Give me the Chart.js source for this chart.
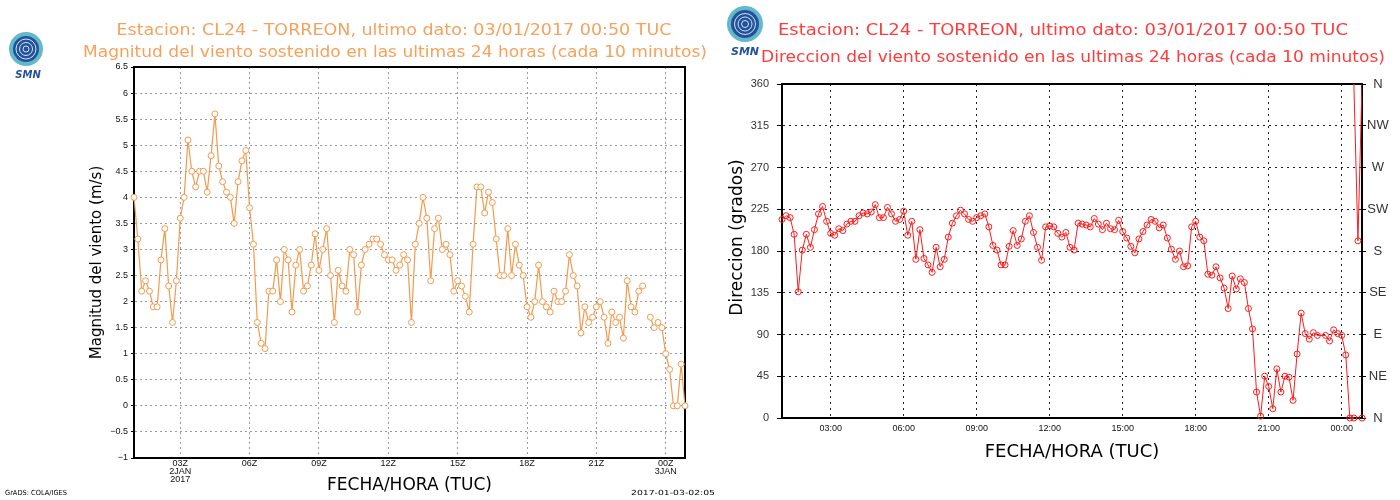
<!DOCTYPE html>
<html>
<head>
<meta charset="utf-8">
<title>CL24 TORREON - viento</title>
<script src="https://cdn.jsdelivr.net/npm/chart.js@4.4.1/dist/chart.umd.min.js"></script>
<style>
  html, body { margin: 0; padding: 0; background: #fff; }
  #wrap { position: relative; width: 1400px; height: 500px; overflow: hidden; }
  canvas { position: absolute; top: 0; }
  #speedChart { left: 0; }
  #dirChart { left: 720px; }
  .logo { position: absolute; }
</style>
</head>
<body>
<div id="wrap">
  <canvas id="speedChart" width="720" height="500"></canvas>
  <canvas id="dirChart" width="680" height="500"></canvas>
  <svg class="logo" style="left:5px;top:30px" width="46" height="50" viewBox="0 0 46 50">
    <circle cx="21" cy="19" r="17" fill="#63b9c9"/>
    <circle cx="21" cy="19" r="13" fill="#24519c"/>
    <circle cx="21" cy="19" r="10" fill="none" stroke="#cfe6ef" stroke-width="1"/>
    <circle cx="21" cy="19" r="6.5" fill="none" stroke="#cfe6ef" stroke-width="1"/>
    <circle cx="21" cy="19" r="3" fill="none" stroke="#cfe6ef" stroke-width="1"/>
    <text x="23" y="48" text-anchor="middle" font-family="DejaVu Sans" font-weight="bold" font-style="italic" font-size="10" fill="#24519c">SMN</text>
  </svg>
  <svg class="logo" style="left:720px;top:3px" width="52" height="54" viewBox="0 0 52 54">
    <circle cx="25" cy="21" r="18" fill="#63b9c9"/>
    <circle cx="25" cy="21" r="14" fill="#24519c"/>
    <circle cx="25" cy="21" r="10.5" fill="none" stroke="#cfe6ef" stroke-width="1"/>
    <circle cx="25" cy="21" r="7" fill="none" stroke="#cfe6ef" stroke-width="1"/>
    <circle cx="25" cy="21" r="3.5" fill="none" stroke="#cfe6ef" stroke-width="1"/>
    <text x="25" y="52" text-anchor="middle" font-family="DejaVu Sans" font-weight="bold" font-style="italic" font-size="11" fill="#24519c">SMN</text>
  </svg>
</div>
<script>
// wind speed (m/s), every 10 min from 01:00 2JAN to 00:50 3JAN
const speedValues = [
  4.0, 3.2, 2.2, 2.4, 2.2, 1.9, 1.9, 2.8, 3.4, 2.3,
  1.6, 2.4, 3.6, 4.0, 5.1, 4.5, 4.2, 4.5, 4.5, 4.1,
  4.8, 5.6, 4.6, 4.3, 4.1, 4.0, 3.5, 4.3, 4.7, 4.9,
  3.8, 3.1, 1.6, 1.2, 1.1, 2.2, 2.2, 2.8, 2.0, 3.0,
  2.8, 1.8, 2.7, 3.0, 2.2, 2.3, 2.7, 3.3, 2.6, 3.0,
  3.4, 2.5, 1.6, 2.6, 2.3, 2.2, 3.0, 2.9, 1.8, 2.7,
  3.0, 3.1, 3.2, 3.2, 3.1, 2.9, 2.8, 2.8, 2.6, 2.7,
  2.9, 2.8, 1.6, 3.1, 3.5, 4.0, 3.6, 2.4, 3.4, 3.6,
  3.0, 3.1, 2.9, 2.2, 2.4, 2.3, 2.1, 1.8, 3.1, 4.2,
  4.2, 3.7, 4.1, 3.9, 3.2, 2.5, 2.5, 3.4, 2.5, 3.1,
  2.7, 2.5, 1.9, 1.7, 2.0, 2.7, 2.0, 1.9, 1.8, 2.2,
  2.0, 2.0, 2.2, 2.9, 2.5, 2.3, 1.4, 1.9, 1.6, 1.7,
  1.9, 2.0, 1.7, 1.2, 1.8, 1.6, 1.7, 1.3, 2.4, 1.9,
  1.8, 2.2, 2.3, null, 1.7, 1.5, 1.6, 1.5, 1.0, 0.7,
  0, 0, 0.8, 0
];

// wind direction (degrees), same times
const dirValues = [
  214, 218, 216, 198, 136, 181, 198, 184, 203, 220,
  228, 212, 199, 197, 204, 202, 209, 212, 212, 218,
  221, 220, 222, 230, 216, 216, 227, 220, 212, 214,
  223, 197, 212, 171, 203, 172, 165, 157, 184, 163,
  171, 195, 210, 218, 224, 220, 214, 212, 216, 218,
  220, 206, 186, 181, 165, 165, 185, 202, 186, 193,
  212, 218, 200, 184, 170, 206, 207, 206, 199, 195,
  200, 184, 181, 210, 209, 208, 206, 215, 209, 203,
  210, 204, 203, 213, 201, 194, 185, 178, 193, 201,
  208, 214, 212, 205, 208, 194, 182, 171, 180, 163,
  164, 206, 212, 195, 191, 155, 154, 163, 151, 140,
  118, 153, 139, 150, 146, 118, 96, 28, 2, 45,
  34, 10, 53, 28, 45, 44, 19, 69, 113, 91,
  85, 92, 89, null, 89, 83, 95, 91, 89, 68,
  0, 0, 191, 0
];

// hours since 00Z 2JAN for each reading
const hours = speedValues.map((_, i) => 1 + i / 6);

const tickHours = [3, 6, 9, 12, 15, 18, 21, 24];
const speedHourLabels = [['03Z', '2JAN', '2017'], '06Z', '09Z', '12Z', '15Z', '18Z', '21Z', ['00Z', '3JAN']];
const dirHourLabels = ['03:00', '06:00', '09:00', '12:00', '15:00', '18:00', '21:00', '00:00'];
const speedTickLabels = ['\u22121', '\u22120.5', '0', '0.5', '1', '1.5', '2', '2.5', '3', '3.5', '4', '4.5', '5', '5.5', '6', '6.5'];
const dirTickLabels = ['0', '45', '90', '135', '180', '225', '270', '315', '360'];
const compassLabels = ['N', 'NE', 'E', 'SE', 'S', 'SW', 'W', 'NW', 'N'];

const speedColor = '#f29a4e';
const dirColor = '#ff1a1a';

// text drawn straight on the canvas, stretched sideways to a given width
const headingPlugin = {
    id: 'headings',
    afterDraw(chart, args, opts) {
        const ctx = chart.ctx;
        for (const h of opts.lines) {
            ctx.save();
            ctx.textBaseline = 'middle';
            ctx.font = h.size + 'px ' + opts.family;
            const sx = h.width / ctx.measureText(h.text).width;
            ctx.translate(h.x, h.y);
            ctx.scale(sx, 1);
            ctx.textAlign = h.align || 'center';
            ctx.fillStyle = h.color;
            ctx.fillText(h.text, 0, 0);
            ctx.restore();
        }
    }
};

const framePlugin = {
    id: 'frame',
    beforeDatasetsDraw(chart) {
        const a = chart.chartArea, ctx = chart.ctx;
        ctx.save();
        ctx.strokeStyle = '#000';
        ctx.lineWidth = 2;
        ctx.strokeRect(a.left, a.top, a.right - a.left, a.bottom - a.top);
        ctx.restore();
    }
};

// direction jumps of more than 180 deg are drawn wrapping over N
const wrapPlugin = {
    id: 'wrapLines',
    afterDatasetsDraw(chart) {
        const pts = chart.getDatasetMeta(0).data;
        const ys = chart.scales.y, a = chart.chartArea, ctx = chart.ctx;
        ctx.save();
        ctx.beginPath();
        ctx.rect(a.left, a.top, a.right - a.left, a.bottom - a.top);
        ctx.clip();
        ctx.strokeStyle = dirColor;
        ctx.lineWidth = 1;
        for (let i = 1; i < dirValues.length; i++) {
            const v0 = dirValues[i - 1], v1 = dirValues[i];
            if (v0 == null || v1 == null || Math.abs(v1 - v0) <= 180) continue;
            const shift = v1 > v0 ? -360 : 360;
            const x0 = pts[i - 1].x, x1 = pts[i].x;
            ctx.beginPath();
            ctx.moveTo(x0, ys.getPixelForValue(v0));
            ctx.lineTo(x1, ys.getPixelForValue(v1 + shift));
            ctx.moveTo(x0, ys.getPixelForValue(v0 - shift));
            ctx.lineTo(x1, ys.getPixelForValue(v1));
            ctx.stroke();
        }
        ctx.restore();
    }
};

const tickFont = (size, lh) => ({ family: 'Liberation Sans', size: size, lineHeight: lh || 1.2 });
const titleFont = (size) => ({ family: 'DejaVu Sans', size: size });

new Chart(document.getElementById('speedChart'), {
    type: 'line',
    data: {
        datasets: [{
            data: hours.map((h, i) => ({ x: h, y: speedValues[i] })),
            borderColor: speedColor,
            borderWidth: 1.2,
            pointRadius: 3,
            pointBorderWidth: 1,
            pointBorderColor: speedColor,
            pointBackgroundColor: '#fff',
            tension: 0,
            spanGaps: false,
            clip: false
        }]
    },
    options: {
        responsive: false,
        animation: false,
        devicePixelRatio: 1,
        layout: { padding: { left: 85, right: 35, top: 67, bottom: 0 } },
        scales: {
            x: {
                type: 'linear',
                min: 1,
                max: 24 + 5 / 6,
                afterBuildTicks: s => { s.ticks = tickHours.map(v => ({ value: v })); },
                afterFit: s => { s.height = 42; },
                ticks: {
                    autoSkip: false, maxRotation: 0, padding: 2, color: '#111',
                    font: tickFont(9, 0.85),
                    callback: (v, i) => speedHourLabels[i]
                },
                grid: { color: '#9a9a9a', drawTicks: false },
                border: { color: '#000', width: 2, dash: [2, 3] },
                title: { display: true, text: 'FECHA/HORA (TUC)', color: '#000', font: titleFont(17), padding: { top: 0, bottom: 4 } }
            },
            y: {
                min: -1,
                max: 6.5,
                afterFit: s => { s.width = 49; },
                ticks: {
                    stepSize: 0.5, padding: 3, color: '#111',
                    font: tickFont(9),
                    callback: (v, i) => speedTickLabels[i]
                },
                grid: { color: '#9a9a9a', tickLength: 3, tickColor: '#000' },
                border: { color: '#000', width: 2, dash: [2, 3] },
                title: { display: true, text: 'Magnitud del viento (m/s)', color: '#000', font: titleFont(15), padding: { top: 3, bottom: 4 } }
            }
        },
        plugins: {
            legend: { display: false },
            tooltip: { enabled: false },
            headings: {
                family: 'DejaVu Sans',
                lines: [
                    { text: 'Estacion: CL24 - TORREON, ultimo dato: 03/01/2017 00:50 TUC', x: 394, y: 31, size: 15, width: 555, color: '#f4a25c' },
                    { text: 'Magnitud del viento sostenido en las ultimas 24 horas (cada 10 minutos)', x: 395, y: 53, size: 15, width: 624, color: '#f4a25c' },
                    { text: 'GrADS: COLA/IGES', x: 5, y: 493, size: 7, width: 62, color: '#000', align: 'left' },
                    { text: '2017-01-03-02:05', x: 631, y: 493, size: 7, width: 84, color: '#000', align: 'left' }
                ]
            }
        }
    },
    plugins: [headingPlugin, framePlugin]
});

new Chart(document.getElementById('dirChart'), {
    type: 'line',
    data: {
        datasets: [{
            data: hours.map((h, i) => ({ x: h, y: dirValues[i] })),
            borderColor: dirColor,
            borderWidth: 1,
            pointRadius: 3,
            pointBorderWidth: 1,
            pointBorderColor: dirColor,
            pointBackgroundColor: 'rgba(255,255,255,0)',
            tension: 0,
            spanGaps: true,
            clip: false,
            segment: {
                borderColor: c => Math.abs(c.p1.parsed.y - c.p0.parsed.y) > 180 ? 'rgba(0,0,0,0)' : undefined
            }
        }]
    },
    options: {
        responsive: false,
        animation: false,
        devicePixelRatio: 1,
        layout: { padding: { left: 4, right: 0, top: 84, bottom: 33 } },
        scales: {
            x: {
                type: 'linear',
                min: 1,
                max: 24 + 5 / 6,
                afterBuildTicks: s => { s.ticks = tickHours.map(v => ({ value: v })); },
                afterFit: s => { s.height = 49; },
                ticks: {
                    autoSkip: false, maxRotation: 0, padding: 5, color: '#111',
                    font: tickFont(9),
                    callback: (v, i) => dirHourLabels[i]
                },
                grid: { color: '#222', drawTicks: false },
                border: { color: '#000', width: 2, dash: [2, 4] },
                title: { display: true, text: 'FECHA/HORA (TUC)', color: '#000', font: titleFont(18), padding: { top: 0, bottom: 4 } }
            },
            y: {
                min: 0,
                max: 360,
                afterFit: s => { s.width = 58; },
                ticks: {
                    stepSize: 45, padding: 8, color: '#333',
                    font: tickFont(11),
                    callback: (v, i) => dirTickLabels[i]
                },
                grid: { color: '#222', tickLength: 5, tickColor: '#000' },
                border: { color: '#000', width: 2, dash: [2, 4] },
                title: { display: true, text: '\u00a0\u00a0\u00a0\u00a0\u00a0Direccion (grados)', color: '#000', font: titleFont(17), padding: { top: 3, bottom: 4 } }
            },
            y2: {
                position: 'right',
                min: 0,
                max: 360,
                afterFit: s => { s.width = 38; },
                ticks: {
                    stepSize: 45, padding: 1, color: '#333', crossAlign: 'center',
                    font: tickFont(13),
                    callback: (v, i) => compassLabels[i]
                },
                grid: { drawOnChartArea: false, tickLength: 4, tickColor: '#000' },
                border: { display: false }
            }
        },
        plugins: {
            legend: { display: false },
            tooltip: { enabled: false },
            headings: {
                family: 'DejaVu Sans',
                lines: [
                    { text: 'Estacion: CL24 - TORREON, ultimo dato: 03/01/2017 00:50 TUC', x: 343, y: 31, size: 15, width: 570, color: '#ff3b3b' },
                    { text: 'Direccion del viento sostenido en las ultimas 24 horas (cada 10 minutos)', x: 353, y: 58, size: 15, width: 624, color: '#ff3b3b' }
                ]
            }
        }
    },
    plugins: [headingPlugin, framePlugin, wrapPlugin]
});
</script>
</body>
</html>
